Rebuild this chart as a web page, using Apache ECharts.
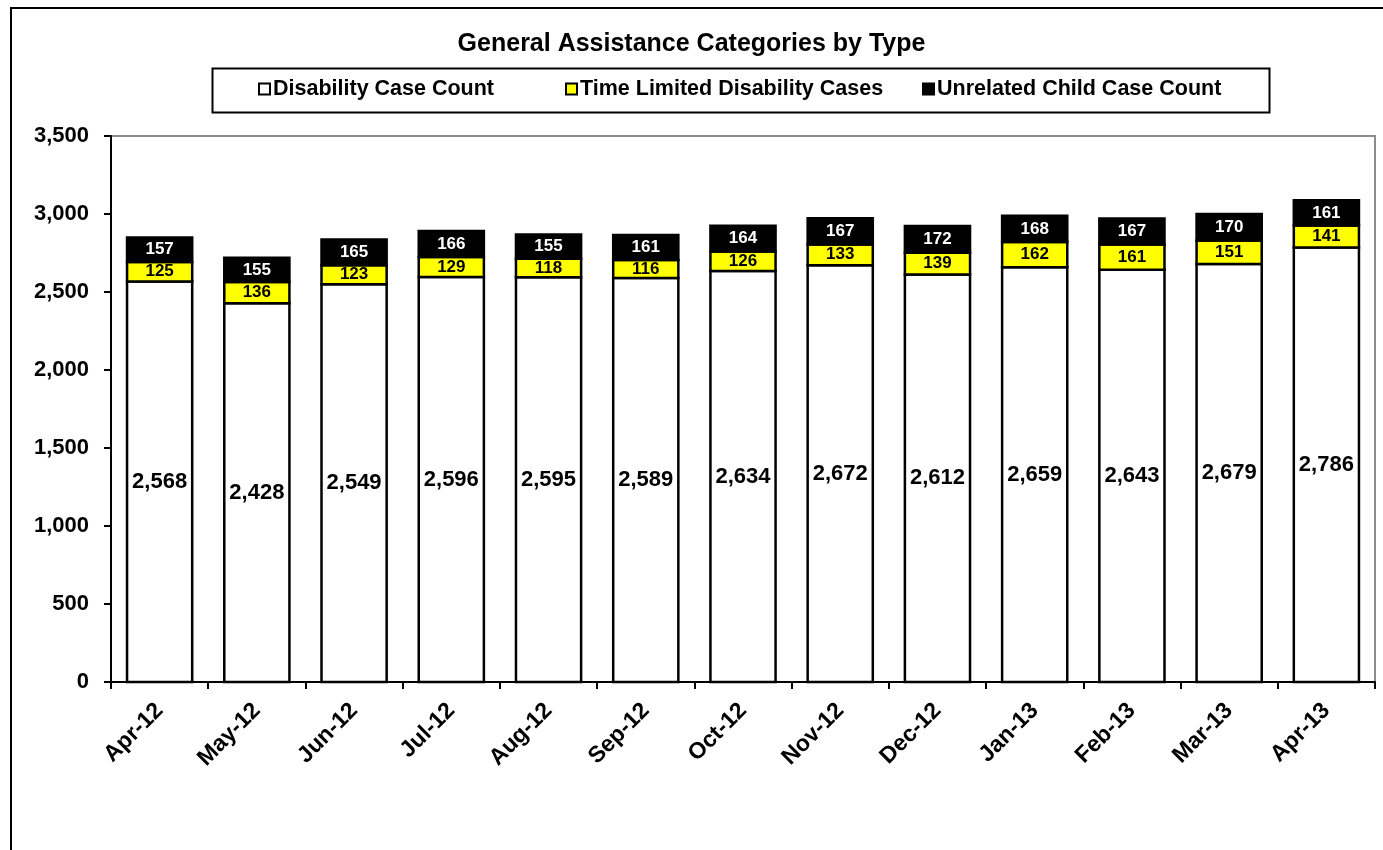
<!DOCTYPE html>
<html>
<head>
<meta charset="utf-8">
<script src="https://cdn.jsdelivr.net/npm/echarts@6/dist/echarts.min.js"></script>
<style>
  html, body { margin: 0; padding: 0; background: #fff; overflow: hidden; }
  #frame { position: absolute; left: 10px; top: 7px; width: 1500px; height: 1000px; border-left: 2px solid #000; border-top: 2px solid #000; box-sizing: border-box; }
  #chart { position: absolute; left: 0; top: 0; width: 1383px; height: 850px; }
</style>
</head>
<body>
<div id="frame"></div>
<div id="chart"></div>
<script>
const categories = ['Apr-12','May-12','Jun-12','Jul-12','Aug-12','Sep-12','Oct-12','Nov-12','Dec-12','Jan-13','Feb-13','Mar-13','Apr-13'];
const disabilityCases = [2568, 2428, 2549, 2596, 2595, 2589, 2634, 2672, 2612, 2659, 2643, 2679, 2786];
const timeLimitedCases = [125, 136, 123, 129, 118, 116, 126, 133, 139, 162, 161, 151, 141];
const unrelatedChildCases = [157, 155, 165, 166, 155, 161, 164, 167, 172, 168, 167, 170, 161];
const yTicks = { min: 0, max: 3500, interval: 500 };

const FONT = '"Liberation Sans", Arial, sans-serif';
const fmt = v => Number(v).toLocaleString('en-US');

const chart = echarts.init(document.getElementById('chart'), null, { renderer: 'canvas' });

function legendAt(name, left) {
  return {
    data: [{ name: name, icon: 'rect' }], left: left, top: 78, padding: 0,
    itemWidth: 11, itemHeight: 11, itemGap: 0,
    selectedMode: false,
    textStyle: { fontFamily: FONT, fontSize: 21.5, fontWeight: 'bold', color: '#000', padding: [0, 0, 0, -2] }
  };
}

// Stacked segment drawn through the axes' own coordinate mapping
function stackSegment(name, values, below, fill, labelColor, labelSize) {
  return {
    name: name,
    type: 'custom',
    data: values.map((v, i) => [i, v]),
    encode: { x: 0, y: 1 },
    itemStyle: { color: fill, borderColor: '#000', borderWidth: 1.5 },
    renderItem: function (params, api) {
      const i = api.value(0);
      const v = api.value(1);
      const base = below.reduce((s, arr) => s + arr[i], 0);
      const p0 = api.coord([i, base]);
      const p1 = api.coord([i, base + v]);
      const w = api.size([1, 0])[0] * 0.67;
      return {
        type: 'rect',
        shape: { x: p0[0] - w / 2, y: p1[1], width: w, height: p0[1] - p1[1] },
        style: { fill: fill, stroke: '#000', lineWidth: 2.5 },
        textContent: {
          style: {
            text: fmt(v), fill: labelColor,
            fontFamily: FONT, fontSize: labelSize, fontWeight: 'bold'
          }
        },
        textConfig: { position: 'inside' }
      };
    }
  };
}

chart.setOption({
  animation: false,
  title: {
    text: 'General Assistance Categories by Type',
    left: 'center', top: 27,
    textStyle: { fontFamily: FONT, fontSize: 25, fontWeight: 'bold', color: '#000' }
  },
  graphic: [{
    type: 'rect', left: 210, top: 66,
    shape: { width: 1057, height: 44 },
    style: { fill: 'none', stroke: '#000', lineWidth: 2 },
    z: -1
  }],
  legend: [
    legendAt('Disability Case Count', 258),
    legendAt('Time Limited Disability Cases', 565),
    legendAt('Unrelated Child Case Count', 922)
  ],
  grid: {
    left: 111, right: 8, top: 136, bottom: 168,
    show: true, borderColor: '#8c8c8c', borderWidth: 2, backgroundColor: 'transparent'
  },
  xAxis: {
    type: 'category', data: categories,
    axisLine: { lineStyle: { color: '#000', width: 2 } },
    axisTick: { show: true, length: 7, lineStyle: { color: '#000', width: 2 } },
    axisLabel: { interval: 0, rotate: 45, margin: 25, fontFamily: FONT, fontSize: 23, fontWeight: 'bold', color: '#000' },
    splitLine: { show: false }
  },
  yAxis: {
    type: 'value', min: yTicks.min, max: yTicks.max, interval: yTicks.interval,
    axisLine: { show: true, lineStyle: { color: '#000', width: 2 } },
    axisTick: { show: true, length: 7, lineStyle: { color: '#000', width: 2 } },
    axisLabel: { margin: 22, fontFamily: FONT, fontSize: 22, fontWeight: 'bold', color: '#000', formatter: fmt },
    splitLine: { show: false }
  },
  series: [
    stackSegment('Disability Case Count', disabilityCases, [], '#ffffff', '#000', 22),
    stackSegment('Time Limited Disability Cases', timeLimitedCases, [disabilityCases], '#ffff00', '#000', 17),
    stackSegment('Unrelated Child Case Count', unrelatedChildCases, [disabilityCases, timeLimitedCases], '#000000', '#fff', 17)
  ]
});
</script>
</body>
</html>
